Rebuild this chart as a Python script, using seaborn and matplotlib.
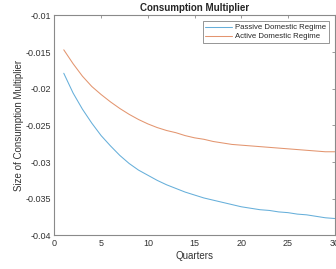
import numpy as np
import pandas as pd
import matplotlib
matplotlib.use("Agg")
import matplotlib.pyplot as plt
import seaborn as sns

# Values
quarters = list(range(1, 31))
passive = [-0.0179, -0.0206, -0.0228, -0.0247, -0.0264, -0.0278, -0.0291, -0.0302,
           -0.0311, -0.0318, -0.0325, -0.0331, -0.0336, -0.0341, -0.0345, -0.0349,
           -0.0352, -0.0355, -0.0358, -0.0361, -0.0363, -0.0365, -0.0366, -0.0368,
           -0.0369, -0.0371, -0.0372, -0.0374, -0.0376, -0.0377]
active = [-0.0147, -0.0166, -0.0183, -0.0197, -0.0208, -0.0218, -0.0227, -0.0235,
          -0.0242, -0.0248, -0.0253, -0.0257, -0.0260, -0.0264, -0.0267, -0.0269,
          -0.0272, -0.0274, -0.0276, -0.0277, -0.0278, -0.0279, -0.0280, -0.0281,
          -0.0282, -0.0283, -0.0284, -0.0285, -0.0286, -0.0286]
regimes = ["Passive Domestic Regime", "Active Domestic Regime"]
x_ticks = [0, 5, 10, 15, 20, 25, 30]
y_ticks = [-0.04, -0.035, -0.03, -0.025, -0.02, -0.015, -0.01]
y_tick_labels = ["-0.04", "-0.035", "-0.03", "-0.025", "-0.02", "-0.015", "-0.01"]

df = pd.DataFrame({
    "Quarters": quarters * 2,
    "value": passive + active,
    "regime": [regimes[0]] * len(quarters) + [regimes[1]] * len(quarters),
})

sns.set_style("white")
plt.rcParams["font.family"] = ["Liberation Sans", "DejaVu Sans"]

fig = plt.figure(figsize=(3.36, 2.69), dpi=100)
ax = fig.add_axes([0.162, 0.125, 0.834, 0.818])

palette = {regimes[0]: "#66afda", regimes[1]: "#e3956f"}
sns.lineplot(data=df, x="Quarters", y="value", hue="regime", hue_order=regimes,
             palette=palette, linewidth=0.75, ax=ax)

ax.set_xlim(0, 30)
ax.set_ylim(-0.04, -0.01)
ax.set_xticks(x_ticks)
ax.set_yticks(y_ticks)
ax.set_yticklabels(y_tick_labels)

axis_grey = "#8a8a8a"
for sp in ax.spines.values():
    sp.set_visible(True)
    sp.set_color(axis_grey)
    sp.set_linewidth(0.8)
ax.tick_params(direction="in", length=2.5, width=0.6, color=axis_grey,
               labelsize=6.5, labelcolor="#333333", top=True, right=True, pad=2.5)

ax.set_xlabel("Quarters", fontsize=7, color="#333333", labelpad=2)
ax.set_ylabel("Size of Consumption Multiplier", fontsize=7, color="#333333", labelpad=1)
ax.set_title("Consumption Multiplier", fontsize=7, fontweight="bold", pad=3)

leg = ax.legend(loc="upper right", bbox_to_anchor=(0.98, 0.973), fontsize=5.6,
                frameon=True, fancybox=False, handlelength=3.5, handletextpad=0.35,
                borderpad=0.35, labelspacing=0.2, borderaxespad=0)
leg.get_frame().set_edgecolor("#666666")
leg.get_frame().set_linewidth(0.6)

fig.savefig("out.png", dpi=100)
